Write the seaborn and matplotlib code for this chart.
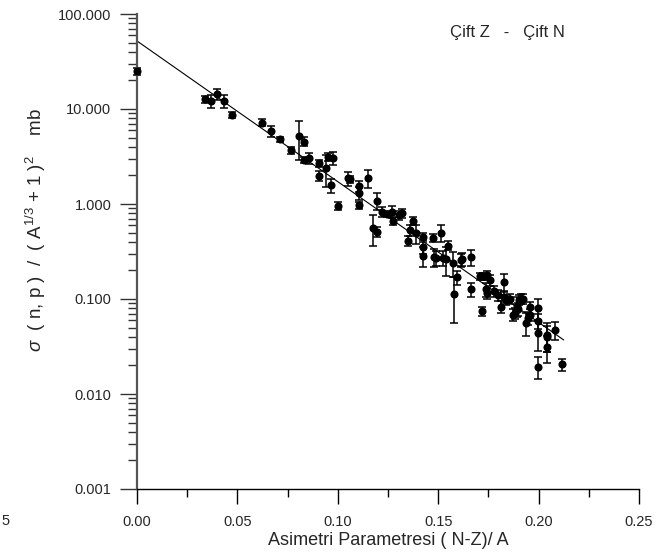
import numpy as np
import pandas as pd
import matplotlib
matplotlib.use("Agg")
import matplotlib.pyplot as plt
import matplotlib.ticker as mticker
import seaborn as sns

# ---- data ----
asym = [0.000, 0.034, 0.0367, 0.0397, 0.0432, 0.0475, 0.0623, 0.0666, 0.0712, 0.0767,
        0.0808, 0.0833, 0.0830, 0.0857, 0.0906, 0.0906, 0.0940, 0.0950, 0.0978, 0.0965,
        0.1000, 0.1049, 0.1060, 0.1107, 0.1107, 0.1107, 0.1150, 0.1177, 0.1196, 0.1196,
        0.1218, 0.1246, 0.1271, 0.1276, 0.1305, 0.1320, 0.1376, 0.1348, 0.1360, 0.1388,
        0.1426, 0.1426, 0.1426, 0.1472, 0.1480, 0.1487, 0.1514, 0.1525, 0.1537, 0.1547,
        0.1575, 0.1579, 0.1596, 0.1612, 0.1619, 0.1663, 0.1663, 0.1720, 0.1710, 0.1724,
        0.1744, 0.1760, 0.1738, 0.1744, 0.1778, 0.1800, 0.1827, 0.1815, 0.1827, 0.1840,
        0.1857, 0.1873, 0.1882, 0.1890, 0.1902, 0.1910, 0.1920, 0.1898, 0.1937, 0.1949,
        0.1957, 0.1957, 0.1999, 0.1999, 0.1999, 0.1999, 0.2040, 0.2043, 0.2040, 0.2081,
        0.2115]
sigma = [25.0, 12.7, 12.1, 14.4, 12.1, 8.7, 7.2, 5.9, 4.8, 3.67,
         5.24, 4.53, 2.9, 3.03, 2.68, 1.99, 2.41, 3.15, 3.05, 1.57,
         0.96, 1.86, 1.83, 1.55, 1.30, 0.975, 1.86, 0.564, 0.51, 1.08,
         0.83, 0.785, 0.83, 0.662, 0.766, 0.80, 0.662, 0.411, 0.532, 0.491,
         0.446, 0.356, 0.286, 0.44, 0.279, 0.272, 0.499, 0.27, 0.265, 0.364,
         0.241, 0.113, 0.169, 0.258, 0.262, 0.275, 0.126, 0.0748, 0.175, 0.175,
         0.178, 0.158, 0.126, 0.115, 0.121, 0.110, 0.150, 0.083, 0.106, 0.0976,
         0.101, 0.068, 0.071, 0.0844, 0.0976, 0.101, 0.101, 0.078, 0.0555, 0.0636,
         0.068, 0.0818, 0.0798, 0.0587, 0.0436, 0.0194, 0.0418, 0.040, 0.031, 0.0472,
         0.0206]
sigma_err = [2.0, 1.0, 1.8, 1.9, 1.8, 0.7, 0.6, 0.8, 0.3, 0.3,
             2.3, 0.5, 0.2, 0.4, 0.2, 0.25, 0.9, 0.3, 0.45, 0.25,
             0.1, 0.3, 0.15, 0.2, 0.2, 0.08, 0.4, 0.2, 0.06, 0.22,
             0.1, 0.06, 0.12, 0.06, 0.08, 0.08, 0.06, 0.05, 0.07, 0.11,
             0.05, 0.06, 0.07, 0.04, 0.06, 0.05, 0.1, 0.05, 0.09, 0.04,
             0.07, 0.057, 0.03, 0.04, 0.04, 0.05, 0.02, 0.008, 0.015, 0.015,
             0.02, 0.02, 0.02, 0.015, 0.015, 0.015, 0.032, 0.012, 0.015, 0.012,
             0.012, 0.01, 0.01, 0.02, 0.012, 0.012, 0.012, 0.012, 0.015, 0.01,
             0.01, 0.012, 0.02, 0.01, 0.015, 0.005, 0.014, 0.012, 0.01, 0.01,
             0.003]

# fitted line: sigma = fit_a * 10**(fit_b * x), drawn over fit_range
fit_a = 52.0
fit_b = -14.81
fit_range = [0.0, 0.2125]

x_ticks = [0.00, 0.05, 0.10, 0.15, 0.20, 0.25]
x_ticklabels = ["0.00", "0.05", "0.10", "0.15", "0.20", "0.25"]
y_ticks = [0.001, 0.01, 0.1, 1, 10, 100]
y_ticklabels = ["0.001", "0.010", "0.100", "1.000", "10.000", "100.000"]

title_text = "Çift Z   -   Çift N"
xlabel_text = "Asimetri Parametresi ( N-Z)/ A"
ylabel_text = r"$\sigma$  ( n, p )  /  ( A$^{1/3}$ + 1 )$^{2}$    mb"
edge_label = "5"

df = pd.DataFrame({"x": asym, "y": sigma, "err": sigma_err})

# ---- style ----
sns.set_theme(style="white")
plt.rcParams["font.family"] = ["Liberation Sans", "DejaVu Sans"]
plt.rcParams["mathtext.fontset"] = "custom"
plt.rcParams["mathtext.rm"] = "Liberation Sans"
plt.rcParams["mathtext.it"] = "Liberation Sans:italic"

fig = plt.figure(figsize=(6.64, 5.52), dpi=100)
ax = fig.add_axes([137 / 664, 1 - 489 / 552, 502 / 664, 475 / 552])

ax.set_yscale("log")
ax.set_xlim(0.0, 0.25)
ax.set_ylim(0.001, 100)

# error bars
ax.errorbar(df["x"], df["y"], yerr=df["err"], fmt="none", ecolor="black",
            elinewidth=1.1, capsize=2.6, capthick=1.1, zorder=2, clip_on=False)
# points
sns.scatterplot(data=df, x="x", y="y", ax=ax, color="black", edgecolor="black",
                s=34, linewidth=0, zorder=3, clip_on=False, legend=False)

# fit line
fx = np.linspace(fit_range[0], fit_range[1], 50)
ax.plot(fx, fit_a * 10 ** (fit_b * fx), color="black", lw=0.8, zorder=2)

# spines
for s in ["top", "right"]:
    ax.spines[s].set_visible(False)
ax.spines["left"].set_color("#555555")
ax.spines["left"].set_linewidth(1.6)
ax.spines["bottom"].set_color("black")
ax.spines["bottom"].set_linewidth(1.0)

# ticks
ax.set_xticks(x_ticks)
ax.set_xticklabels(x_ticklabels)
ax.xaxis.set_minor_locator(mticker.MultipleLocator(0.025))
ax.set_yticks(y_ticks)
ax.set_yticklabels(y_ticklabels)
ax.yaxis.set_minor_locator(mticker.LogLocator(base=10, subs=np.arange(2, 10)))
ax.yaxis.set_minor_formatter(mticker.NullFormatter())

ax.tick_params(axis="x", which="major", direction="out", length=11, width=1.0,
               color="black", labelsize=10.5, pad=8, bottom=True)
ax.tick_params(axis="x", which="minor", direction="out", length=6, width=1.0,
               color="black", bottom=True)
ax.tick_params(axis="y", which="major", direction="out", length=12.5, width=1.0,
               color="#333333", labelsize=10.5, pad=6, left=True)
ax.tick_params(axis="y", which="minor", direction="out", length=6.5, width=1.0,
               color="#333333", left=True)

ax.set_xlabel(xlabel_text, fontsize=13, labelpad=2)
ax.set_ylabel(ylabel_text, fontsize=13.5, va="center")
ax.yaxis.set_label_coords(-0.201, 0.545)

ax.text((450 - 137) / 502, (489 - 33) / 475, title_text, transform=ax.transAxes,
        fontsize=12, ha="left", va="center")

# remnant of a tick label visible at the left edge of the reference
fig.text(1 / 664, 1 - 521 / 552, edge_label, fontsize=10.5, ha="left", va="center")

fig.savefig("out.png", dpi=100)
